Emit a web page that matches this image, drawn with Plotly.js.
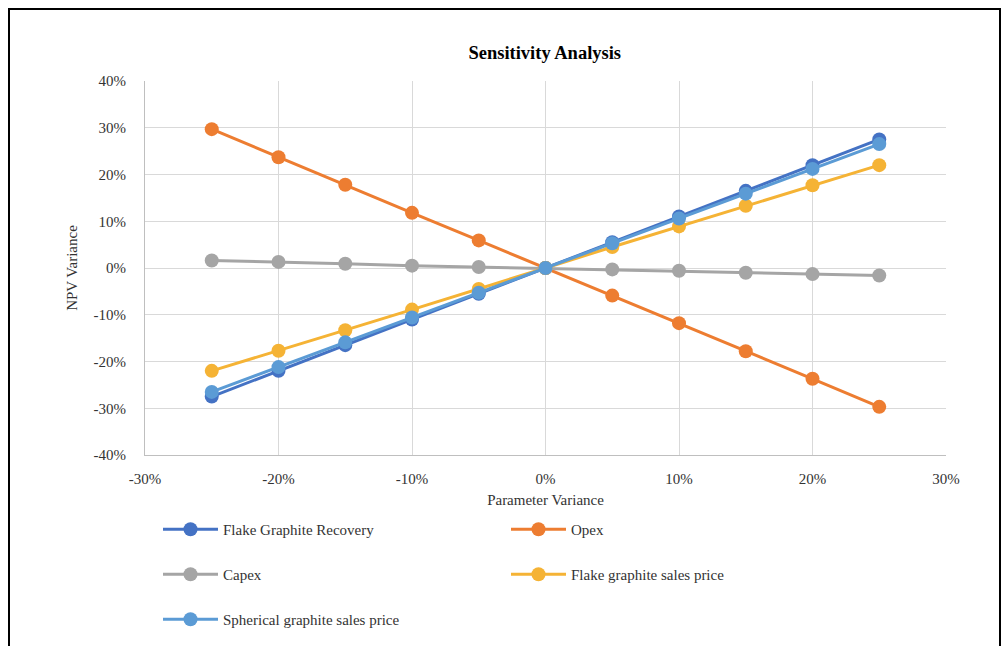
<!DOCTYPE html>
<html>
<head>
<meta charset="utf-8">
<script src="https://cdn.plot.ly/plotly-3.0.1.min.js"></script>
<style>
html,body{margin:0;padding:0;background:#fff;overflow:hidden;}
#chart{width:1006px;height:646px;}
</style>
</head>
<body>
<div id="chart"></div>
<script>
// Parameter variance (x) and NPV variance (y) in percent
const paramVariance = [-25, -20, -15, -10, -5, 0, 5, 10, 15, 20, 25];
const flakeRecovery = [-27.5, -22.0, -16.5, -11.0, -5.5, 0, 5.5, 11.0, 16.5, 22.0, 27.5];
const opex = [29.7, 23.7, 17.8, 11.8, 5.9, 0, -5.9, -11.8, -17.8, -23.7, -29.7];
const capex = [1.6, 1.3, 0.9, 0.5, 0.2, 0, -0.3, -0.6, -1.0, -1.3, -1.6];
const flakePrice = [-22.0, -17.7, -13.3, -8.9, -4.5, 0, 4.5, 8.9, 13.3, 17.7, 22.0];
const sphericalPrice = [-26.5, -21.2, -15.9, -10.6, -5.3, 0, 5.3, 10.6, 15.9, 21.2, 26.5];

const seriesNames = ["Flake Graphite Recovery", "Opex", "Capex", "Flake graphite sales price", "Spherical graphite sales price"];
const seriesValues = [flakeRecovery, opex, capex, flakePrice, sphericalPrice];
const seriesColors = ["#4472C4", "#ED7D31", "#A5A5A5", "#F5B335", "#5B9BD5"];

const xTicks = [-30, -20, -10, 0, 10, 20, 30];
const yTicks = [-40, -30, -20, -10, 0, 10, 20, 30, 40];
const pct = v => v + "%";

const FONT = "Liberation Serif, Times New Roman, serif";
const TXT = "#333333";

const traces = seriesNames.map((name, i) => ({
  type: "scatter",
  mode: "lines+markers",
  name: name,
  legendgroup: "g" + i,
  x: paramVariance.map(v => v / 100),
  y: seriesValues[i].map(v => v / 100),
  line: {color: seriesColors[i], width: 3},
  marker: {color: seriesColors[i], size: 14},
  hoverinfo: "x+y+name"
}));

const layout = {
  width: 1006,
  height: 646,
  paper_bgcolor: "#fff",
  plot_bgcolor: "#fff",
  margin: {l: 145, r: 60, t: 81, b: 191, autoexpand: false},
  font: {family: FONT, color: TXT, size: 15},
  title: {
    text: "<b>Sensitivity Analysis</b>",
    font: {family: FONT, size: 18.5, color: "#000"},
    x: 0.5415, xanchor: "center",
    y: 1 - 53 / 646, yanchor: "middle", yref: "container"
  },
  xaxis: {
    range: [-0.3, 0.3],
    tickvals: xTicks.map(v => v / 100),
    ticktext: xTicks.map(pct),
    showgrid: true,
    gridcolor: "#D9D9D9",
    gridwidth: 1,
    zeroline: false,
    showline: true,
    linecolor: "#BFBFBF",
    linewidth: 1,
    ticks: "",
    ticklabelstandoff: 10,
    tickfont: {family: FONT, size: 15, color: TXT},
    title: {text: "Parameter Variance", font: {family: FONT, size: 15, color: TXT}, standoff: 8},
    automargin: false,
    fixedrange: true
  },
  yaxis: {
    range: [-0.4, 0.4],
    tickvals: yTicks.map(v => v / 100),
    ticktext: yTicks.map(pct),
    showgrid: true,
    gridcolor: "#D9D9D9",
    gridwidth: 1,
    zeroline: false,
    showline: true,
    linecolor: "#BFBFBF",
    linewidth: 1,
    ticks: "",
    ticklabelstandoff: 15,
    tickfont: {family: FONT, size: 15, color: TXT},
    title: {text: "NPV Variance", font: {family: FONT, size: 15, color: TXT}, standoff: 12},
    automargin: false,
    fixedrange: true
  },
  showlegend: true,
  legend: {
    orientation: "h",
    x: (158 - 145) / 801,
    xanchor: "left",
    y: -(513 - 455) / 374,
    yanchor: "top",
    itemwidth: 55,
    entrywidth: 278,
    tracegroupgap: 22.5,
    font: {family: FONT, size: 15, color: TXT},
    bgcolor: "rgba(0,0,0,0)",
    traceorder: "grouped"
  },
  shapes: [{
    type: "rect",
    xref: "paper", yref: "paper",
    x0: (9 - 145) / 801, x1: (1000 - 145) / 801,
    y0: (455 - 700) / 374, y1: 1 + (81 - 9) / 374,
    line: {color: "#000", width: 2},
    fillcolor: "rgba(0,0,0,0)",
    layer: "above"
  }]
};

Plotly.newPlot("chart", traces, layout, {displayModeBar: false, staticPlot: false});
</script>
</body>
</html>
